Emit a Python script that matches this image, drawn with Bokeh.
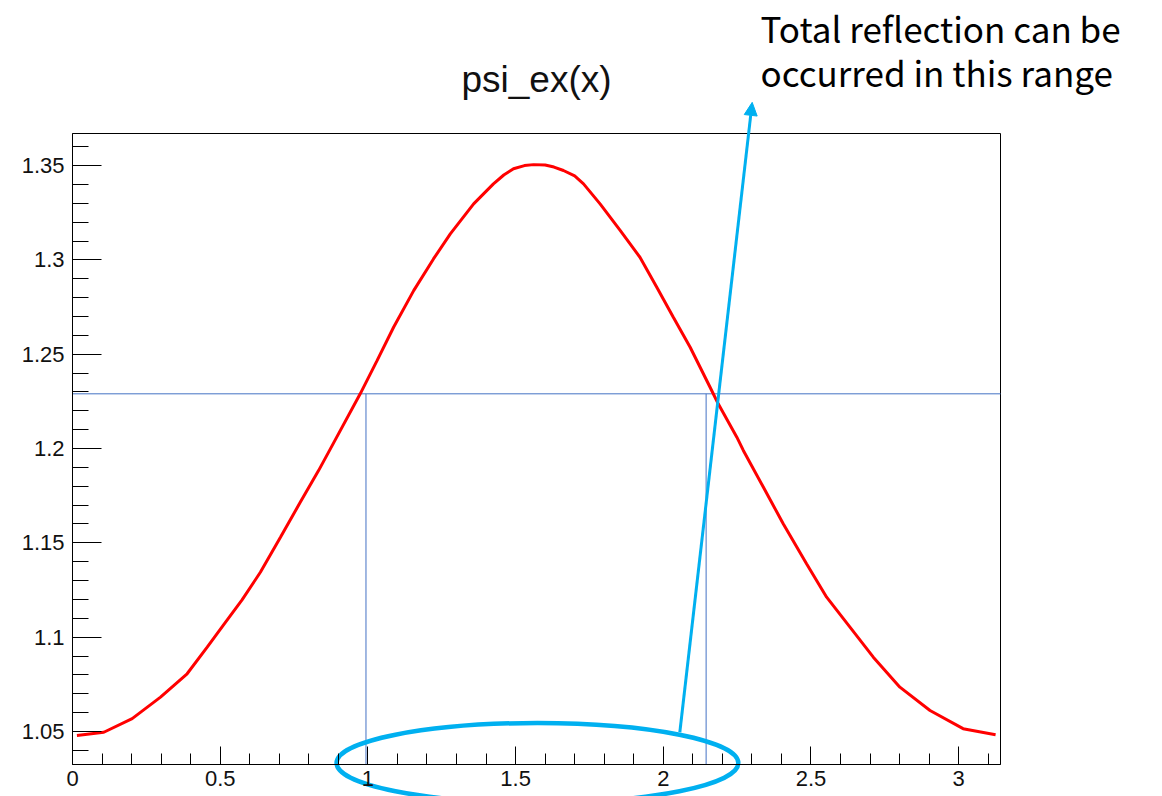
import numpy as np
from bokeh.plotting import figure
from bokeh.models import (Range1d, FixedTicker, CustomJSTickFormatter, Label, Arrow,
                          NormalHead, BoxAnnotation)
from bokeh.embed import file_html
from bokeh.resources import INLINE

# psi_ex(x) sampled over [0, pi]
x_vals = [0.015, 0.106, 0.202, 0.298, 0.388, 0.456, 0.512, 0.574, 0.636, 0.704,
          0.771, 0.833, 0.884, 0.974, 1.031, 1.087, 1.155, 1.222, 1.279, 1.358,
          1.425, 1.460, 1.493, 1.530, 1.561, 1.600, 1.630, 1.662, 1.700, 1.730,
          1.786, 1.854, 1.921, 1.978, 2.034, 2.091, 2.158, 2.186, 2.249, 2.271,
          2.339, 2.406, 2.485, 2.553, 2.632, 2.711, 2.801, 2.903, 3.015, 3.125]
psi_vals = [1.0479, 1.0496, 1.0568, 1.0682, 1.0806, 1.0947, 1.1067, 1.1198, 1.1344, 1.1530,
            1.1715, 1.1883, 1.2030, 1.2290, 1.2466, 1.2643, 1.2837, 1.3005, 1.3138, 1.3297,
            1.3403, 1.3450, 1.3483, 1.3500, 1.3505, 1.3503, 1.3492, 1.3474, 1.3445, 1.3403,
            1.3297, 1.3156, 1.3014, 1.2855, 1.2696, 1.2537, 1.2326, 1.2237, 1.2060, 1.1990,
            1.1795, 1.1601, 1.1389, 1.1212, 1.1053, 1.0894, 1.0735, 1.0611, 1.0515, 1.0483]

# threshold level and the x values bounding the range above it
level = 1.229
cut_x = [0.9935, 2.145]

x_min, x_max = 0.0, 3.1416
y_min, y_max = 1.0325, 1.367

x_ticks = [0, 0.5, 1, 1.5, 2, 2.5, 3]
x_minor = [round(0.1 * i, 1) for i in range(1, 32)]
y_ticks = [1.05, 1.1, 1.15, 1.2, 1.25, 1.3, 1.35]
y_minor = [round(1.04 + 0.01 * i, 2) for i in range(0, 33)]

FONT = "Liberation Sans"
CYAN = "#00B0F0"
BLUE = "#4472C4"

# canvas layout: the plotting box sits at px 72..1000 (x) and 133..764 (y)
W, H = 1162, 796
box_l, box_r, box_t, box_b = 72, 1000, 133, 764
sx = (box_r - box_l) / (x_max - x_min)
sy = (box_b - box_t) / (y_max - y_min)
xr = Range1d(x_min - box_l / sx, x_max + (W - box_r) / sx)
yr = Range1d(y_min - (H - box_b) / sy, y_max + box_t / sy)

p = figure(frame_width=W, frame_height=H, x_range=xr, y_range=yr,
           output_backend="svg", toolbar_location=None, title=None,
           min_border=0)

p.background_fill_color = "white"
p.border_fill_color = "white"
p.outline_line_color = None
p.grid.visible = False

fmt = CustomJSTickFormatter(code="return String(Math.round(tick * 100) / 100);")

p.xaxis.fixed_location = y_min
p.xaxis.bounds = (x_min, x_max)
p.yaxis.fixed_location = x_min
p.yaxis.bounds = (y_min, y_max)

for ax, ticks, minor, tin, tmin, stand in ((p.xaxis, x_ticks, x_minor, 18, 11, 6),
                                           (p.yaxis, y_ticks, y_minor, 29, 16, 8)):
    ax.ticker = FixedTicker(ticks=ticks, minor_ticks=minor)
    ax.formatter = fmt
    ax.axis_line_color = "black"
    ax.major_tick_line_color = "black"
    ax.minor_tick_line_color = "black"
    ax.major_tick_in = tin
    ax.major_tick_out = 0
    ax.minor_tick_in = tmin
    ax.minor_tick_out = 0
    ax.major_label_text_font = FONT
    ax.major_label_text_font_size = "22px"
    ax.major_label_text_color = "#111111"
    ax.major_label_standoff = stand

# frame box
p.add_layout(BoxAnnotation(left=x_min, right=x_max, bottom=y_min, top=y_max,
                           fill_alpha=0, line_color="black", line_alpha=1,
                           line_width=1, level="underlay"))

# title
p.add_layout(Label(x=(x_min + x_max) / 2, y=y_max + 54 / sy, text="psi_ex(x)",
                   text_font=FONT, text_font_size="37px", text_color="#111111",
                   text_align="center", text_baseline="alphabetic"))

# threshold line and the two vertical markers
p.line([x_min, x_max], [level, level], line_color=BLUE, line_width=1)
p.segment(x0=cut_x, y0=[level, level], x1=cut_x, y1=[y_min, y_min],
          line_color=BLUE, line_width=1)

# the function itself
p.line(x_vals, psi_vals, line_color="#FF0000", line_width=3)

# ellipse marking the range on the x axis
p.ellipse(x=[1.574], y=[1.0333], width=[1.360], height=[0.0424],
          fill_alpha=0, line_color=CYAN, line_width=4.5)

p.add_layout(Arrow(end=NormalHead(size=13, fill_color=CYAN, line_color=CYAN),
                   x_start=2.056, y_start=1.0496, x_end=2.301, y_end=1.3835,
                   line_color=CYAN, line_width=3))

for txt, py in (("Total reflection can be", 27), ("occurred in this range", 71)):
    p.add_layout(Label(x=2.329, y=y_max + (box_t - py) / sy, text=txt,
                       text_font="Noto Sans CJK KR", text_font_size="35px",
                       text_color="black", text_baseline="alphabetic",
                       text_align="left"))

open("out.html", "w").write(file_html(p, INLINE))
